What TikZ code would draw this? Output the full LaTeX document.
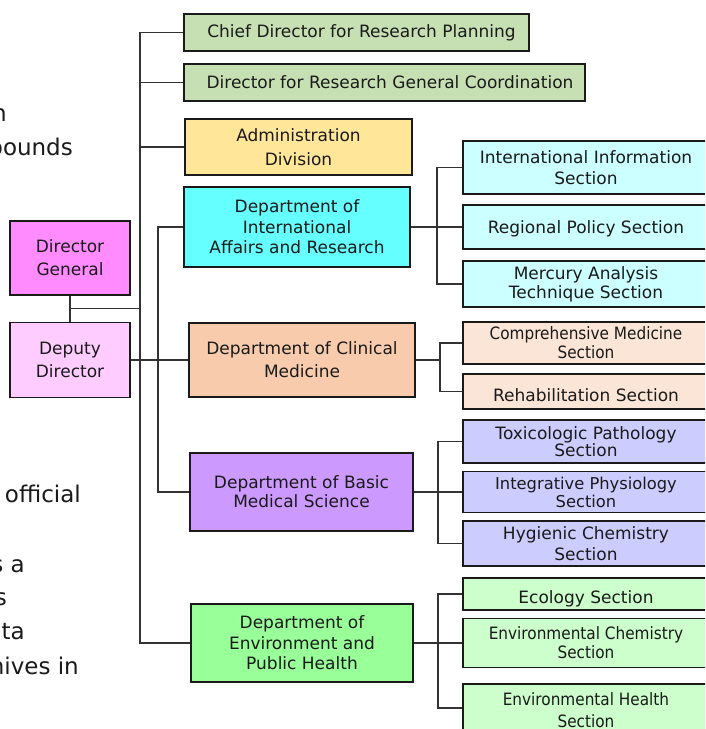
\documentclass[tikz,border=0pt]{standalone}
\usepackage{fontspec}
\setmainfont{DejaVu Sans}
\newfontfamily\condfont{DejaVu Sans Condensed}
\usetikzlibrary{calc}
\definecolor{boxline}{HTML}{1A1A1A}
\definecolor{lineclr}{HTML}{333333}
\definecolor{txt}{HTML}{1A1A1A}
\definecolor{cDG}{HTML}{FF8BFF}
\definecolor{cDD}{HTML}{FFCCFF}
\definecolor{cTop}{HTML}{C6E0B4}
\definecolor{cAdm}{HTML}{FFE699}
\definecolor{cIntl}{HTML}{66FFFF}
\definecolor{cClin}{HTML}{F8CBAD}
\definecolor{cBasic}{HTML}{CC99FF}
\definecolor{cEnv}{HTML}{99FF99}
\definecolor{sIntl}{HTML}{CCFFFF}
\definecolor{sClin}{HTML}{FBE5D6}
\definecolor{sBasic}{HTML}{CCCCFF}
\definecolor{sEnv}{HTML}{CCFFCC}
\begin{document}
\begin{tikzpicture}[x=1pt,y=-1pt,
  box/.style={draw=boxline,line width=1.6pt,inner sep=0pt,align=center,text=txt,
    font=\fontsize{17}{20.5}\selectfont},
  sect/.style={box,minimum width=246pt},
  cond/.style={font=\condfont\fontsize{17}{19}\selectfont},
  conn/.style={draw=lineclr,line width=1.3pt},
  lefttext/.style={anchor=base east,inner sep=0pt,text=txt,font=\fontsize{23}{34}\selectfont}]
\useasboundingbox (0,0) rectangle (705,729);
\clip (0,0) rectangle (705,729);
\fill[white] (0,0) rectangle (705,729);

% left text fragments (cut off by the picture edge)
\node[lefttext] (l1) at (7,121) {Japan};
\node[lefttext] (l2) at (73,155) {compounds};
\node[lefttext] (l3) at (81,502) {official};
\node[lefttext] (l4) at (25,572) {is a};
\node[lefttext] (l5) at (7,605) {has};
\node[lefttext] (l6) at (25,639) {data};
\node[lefttext] (l7) at (79,674) {archives in};

% left boxes
\node[box,fill=cDG,minimum width=120pt,minimum height=74pt,font=\fontsize{17}{23}\selectfont] (dg) at (70,258) {Director\\General};
\node[box,fill=cDD,minimum width=120pt,minimum height=75pt,font=\fontsize{17}{23}\selectfont] (dd) at (70,360) {Deputy\\Director};

% middle boxes
\node[box,fill=cTop,minimum width=345pt,minimum height=37pt] (chief) at (356.5,32.5) {\hspace{10pt}Chief Director for Research Planning};
\node[box,fill=cTop,minimum width=401pt,minimum height=37pt] (rgc) at (384.5,82.5) {\hspace{11pt}Director for Research General Coordination};
\node[box,fill=cAdm,minimum width=227pt,minimum height=56pt,font=\fontsize{17}{24}\selectfont] (adm) at (298.5,147) {Administration\\Division};
\node[box,fill=cIntl,minimum width=226pt,minimum height=80pt] (intl) at (297,227) {Department of\\International\\Affairs and Research};
\node[box,fill=cClin,minimum width=226pt,minimum height=74pt,font=\fontsize{17}{23}\selectfont] (clin) at (302,360) {Department of Clinical\\Medicine};
\node[box,fill=cBasic,minimum width=223pt,minimum height=78pt,font=\fontsize{17}{19}\selectfont] (basic) at (301.5,492) {Department of Basic\\Medical Science};
\node[box,fill=cEnv,minimum width=222pt,minimum height=78pt] (env) at (302,643) {Department of\\Environment and\\Public Health};

% sections
\node[sect,fill=sIntl,minimum height=53pt] (s11) at (586,167.5) {International Information\\Section};
\node[sect,fill=sIntl,minimum height=44pt,text height=17pt,text depth=4pt] (s12) at (586,227) {Regional Policy Section};
\node[sect,fill=sIntl,minimum height=46pt,font=\fontsize{17}{19}\selectfont] (s13) at (586,284) {Mercury Analysis\\Technique Section};
\node[sect,fill=sClin,minimum height=42pt,cond] (s21) at (586,343) {Comprehensive Medicine\\Section};
\node[sect,fill=sClin,minimum height=35pt,text height=19pt,text depth=0pt] (s22) at (586,391.5) {Rehabilitation Section};
\node[sect,fill=sBasic,minimum height=43pt,font=\fontsize{17}{17}\selectfont] (s31) at (586,441.5) {Toxicologic Pathology\\Section};
\node[sect,fill=sBasic,minimum height=41pt,font=\fontsize{16.3}{18}\selectfont] (s32) at (586,492) {Integrative Physiology\\Section};
\node[sect,fill=sBasic,minimum height=45pt] (s33) at (586,543.5) {Hygienic Chemistry\\Section};
\node[sect,fill=sEnv,minimum height=32pt,text height=23pt,text depth=4pt] (s41) at (586,594) {Ecology Section};
\node[sect,fill=sEnv,minimum height=49pt,cond] (s42) at (586,643) {Environmental Chemistry\\Section};
\node[sect,fill=sEnv,minimum height=48pt,
  label={[inner sep=0pt,align=center,text=txt,font=\condfont\fontsize{17}{22}\selectfont,yshift=-2.5pt]center:{Environmental Health\\Section}}] (s43) at (586,708) {};

% trunk coordinates
\coordinate (tA) at (140,0);
\coordinate (tB) at (158,0);
\coordinate (rA) at (437,0);
\coordinate (rB) at (440,0);
\coordinate (rC) at (438,0);
\coordinate (jdg) at ($(dg.south)!0.5!(dd.north)$);

% left connectors
\draw[conn] (dg.south) -- (dd.north);
\draw[conn] (jdg) -- (jdg -| tA);
\draw[conn] (chief.west) -| (tA |- env.west) -- (env.west);
\draw[conn] (rgc.west) -- (rgc.west -| tA);
\draw[conn] (adm.west) -- (adm.west -| tA);
\draw[conn] (intl.west) -| (tB |- basic.west) -- (basic.west);
\draw[conn] (dd.east) -- (clin.west);

% right connectors
\draw[conn] (intl.east) -- (s12.west);
\draw[conn] (s11.west) -| (rA |- s13.west) -- (s13.west);
\draw[conn] (clin.east) -- (clin.east -| rB);
\draw[conn] (s21.west) -| (rB |- s22.west) -- (s22.west);
\draw[conn] (basic.east) -- (s32.west);
\draw[conn] (s31.west) -| (rC |- s33.west) -- (s33.west);
\draw[conn] (env.east) -- (s42.west);
\draw[conn] (s41.west) -| (rC |- s43.west) -- (s43.west);
\end{tikzpicture}
\end{document}
